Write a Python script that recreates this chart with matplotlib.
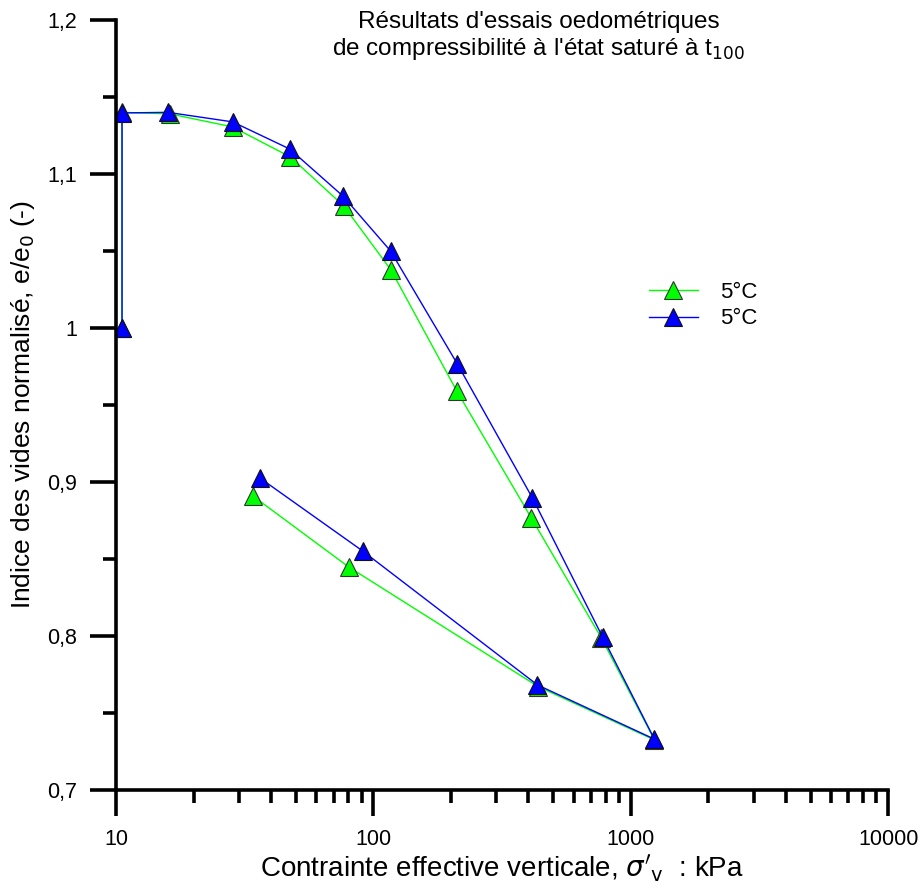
import numpy as np
import matplotlib
matplotlib.use("Agg")
import matplotlib.pyplot as plt
from matplotlib.ticker import FuncFormatter, LogLocator, MultipleLocator, NullFormatter

plt.rcParams["font.family"] = ["Liberation Sans", "DejaVu Sans"]

####################################################
# Data
####################################################

# green series (5°C)
sig_green = [10.55, 10.55, 16.2, 28.4, 47.6, 76.7, 117, 211, 411, 769, 1236, 438, 80.2, 34.0]
e_green = [1.0, 1.14, 1.139, 1.1305, 1.111, 1.0792, 1.0377, 0.959, 0.8766, 0.7987, 0.7325, 0.767, 0.8448, 0.8909]

# blue series (5°C)
sig_blue = [10.55, 10.55, 15.9, 28.4, 47.3, 76.1, 116.6, 212, 415, 777, 1236, 434, 90.8, 36.2]
e_blue = [1.0, 1.1396, 1.14, 1.1338, 1.1162, 1.0857, 1.05, 0.9766, 0.8896, 0.7994, 0.733, 0.7682, 0.8552, 0.9026]

labels = ["5°C", "5°C"]
x_ticks = [10, 100, 1000, 10000]

####################################################
# Figure
####################################################

fig = plt.figure(figsize=(9.18, 8.9), dpi=100)
ax = fig.add_axes([0.1264, 0.1124, 0.841, 0.8652])

ax.plot(
    sig_green, e_green,
    color="#00ff00", linewidth=1,
    marker="^", markersize=13,
    markerfacecolor="#00ff00", markeredgecolor="#333333", markeredgewidth=0.8,
    label=labels[0],
)
ax.plot(
    sig_blue, e_blue,
    color="#0000ff", linewidth=1,
    marker="^", markersize=13,
    markerfacecolor="#0000ff", markeredgecolor="#111111", markeredgewidth=0.8,
    label=labels[1],
)

ax.set_xscale("log")
ax.set_xlim(10, 10000)
ax.set_ylim(0.7, 1.2)

ax.xaxis.set_minor_locator(LogLocator(base=10, subs=np.arange(2, 10), numticks=20))
ax.xaxis.set_minor_formatter(NullFormatter())
ax.set_xticks(x_ticks)
ax.set_xticklabels([str(v) for v in x_ticks])

ax.yaxis.set_major_locator(MultipleLocator(0.1))
ax.yaxis.set_minor_locator(MultipleLocator(0.05))
ax.yaxis.set_major_formatter(FuncFormatter(lambda v, p: f"{v:.1f}".rstrip("0").rstrip(".").replace(".", ",")))

for s in ["top", "right"]:
    ax.spines[s].set_visible(False)
for s in ["left", "bottom"]:
    ax.spines[s].set_linewidth(2.6)

ax.tick_params(which="major", direction="out", length=19, width=2.6, labelsize=15.5, pad=9)
ax.tick_params(which="minor", direction="out", length=9.5, width=2.6)

ax.set_xlabel(r"Contrainte effective verticale, $\sigma'_{\rm v}$  : kPa", fontsize=20, labelpad=2)
ax.set_ylabel(r"Indice des vides normalisé, e/e$_0$ (-)", fontsize=19, labelpad=7)

ax.text(
    0.547, 1.012,
    "Résultats d'essais oedométriques\nde compressibilité à l'état saturé à t$_{100}$",
    transform=ax.transAxes,
    ha="center", va="top",
    fontsize=17.5, linespacing=1.15,
)

ax.legend(
    loc="upper left",
    bbox_to_anchor=(0.69, 0.66),
    frameon=False,
    fontsize=16,
    handlelength=2.2,
    handletextpad=1.0,
    labelspacing=0.25,
    borderpad=0,
    borderaxespad=0,
    markerscale=1.05,
)

fig.savefig("out.png", dpi=100)
